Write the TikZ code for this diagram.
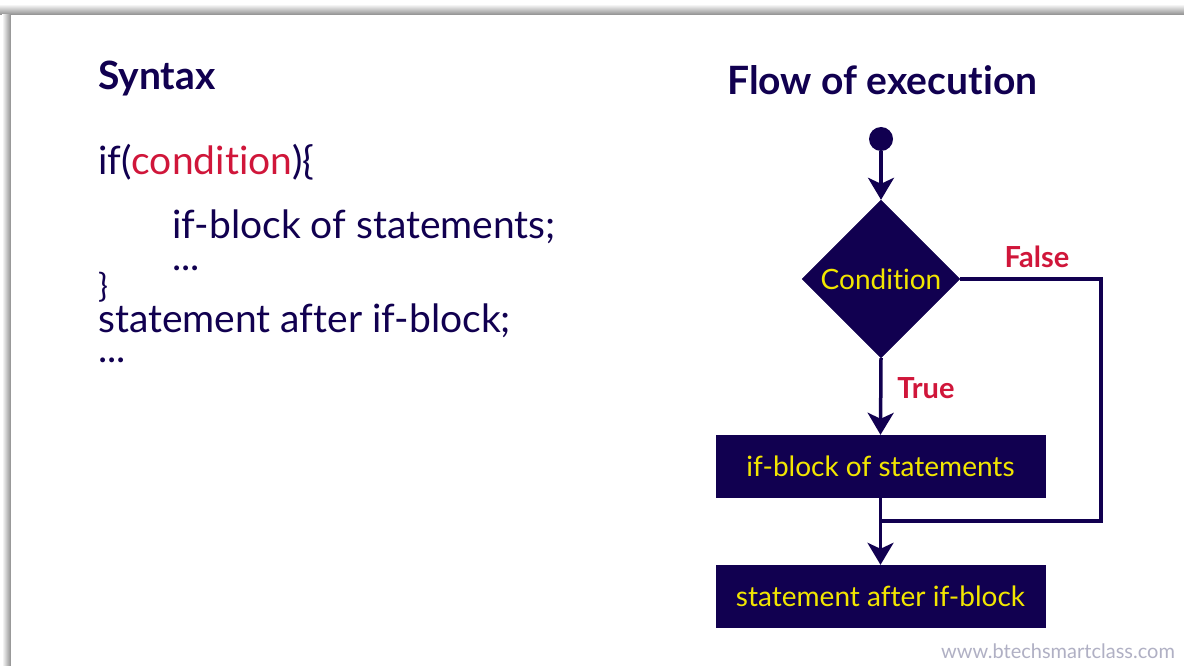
\documentclass[tikz,border=0pt]{standalone}
\usepackage{fontspec}
\setmainfont{Lato}[Ligatures=NoCommon]
\usetikzlibrary{shapes.geometric,arrows.meta}
\definecolor{navy}{HTML}{110050}
\definecolor{inkred}{HTML}{D0163A}
\definecolor{hiyellow}{HTML}{F2E600}
\definecolor{webgray}{HTML}{B0B0C4}
\tikzset{
  flowbox/.style={draw=navy, fill=navy, minimum width=329pt, minimum height=62pt,
    inner sep=0pt, text=hiyellow, font=\fontsize{28}{28}\selectfont},
  decision/.style={diamond, draw=navy, fill=navy, minimum width=158pt, minimum height=158pt,
    inner sep=0pt, aspect=1, text=hiyellow, font=\fontsize{28}{28}\selectfont},
  flowline/.style={draw=navy, line width=3.5pt},
  flowarrow/.style={flowline, -{Stealth[length=22pt,width=26pt,inset=6pt]}},
  branch/.style={text=inkred, font=\bfseries\fontsize{29}{29}\selectfont},
  code/.style={anchor=base west, inner sep=0pt, text height=22pt, text depth=4pt,
    text=navy, font=\fontsize{39}{39}\selectfont},
  heading/.style={anchor=base west, inner sep=0pt, text=navy, font=\bfseries\fontsize{39}{39}\selectfont}
}
\begin{document}
\begin{tikzpicture}[x=1pt,y=-1pt]
  \useasboundingbox (0,0) rectangle (1184,666);
  % page background and the card's soft shadow
  \fill[white] (0,0) rectangle (1184,666);
  \shade[top color=white, bottom color=black!45] (0,4) rectangle (1184,15);
  \shade[left color=white, right color=black!45] (2,15) rectangle (11,666);
  \fill[white] (11,15) rectangle (1184,666);

  % syntax listing
  \node[code] (syn) at (98,90) {\bfseries Syntax};
  \node[code] (l1) at (98,175) {if(\textcolor{inkred}{condition})\{};
  \node[code] (l2) at (172,238) {if-block of statements;};
  \node[code] (l3) at (172,270) {...};
  \node[code] (l4) at (98,297) {\fontsize{33}{33}\selectfont\}};
  \node[code] (l5) at (98,332) {statement after if-block;};
  \node[code] (l6) at (98,362) {...};

  % flow of execution
  \node[heading] (flow) at (727,95) {Flow of execution};
  \node[circle, fill=navy, minimum size=24pt, inner sep=0pt] (start) at (881,139) {};
  \node[decision] (cond) at (881,279) {Condition};
  \node[flowbox] (ifb) at (880.5,466) {if-block of statements};
  \node[flowbox] (after) at (880.5,596) {statement after if-block};
  \coordinate (rail) at (1101,521);
  \coordinate (join) at (881,521);

  \draw[flowarrow] (start) -- (cond.north);
  \draw[flowarrow] (cond.south) -- (ifb.north);
  \draw[flowarrow] (ifb.south) -- (after.north);
  \draw[flowline] (cond.east) -| (rail) -- (join);

  \node[branch] (t) at (926,388) {True};
  \node[branch] (f) at (1037,257) {False};
  \node[text=webgray, font=\fontsize{20}{20}\selectfont] (web) at (1058,651) {www.btechsmartclass.com};
\end{tikzpicture}
\end{document}
